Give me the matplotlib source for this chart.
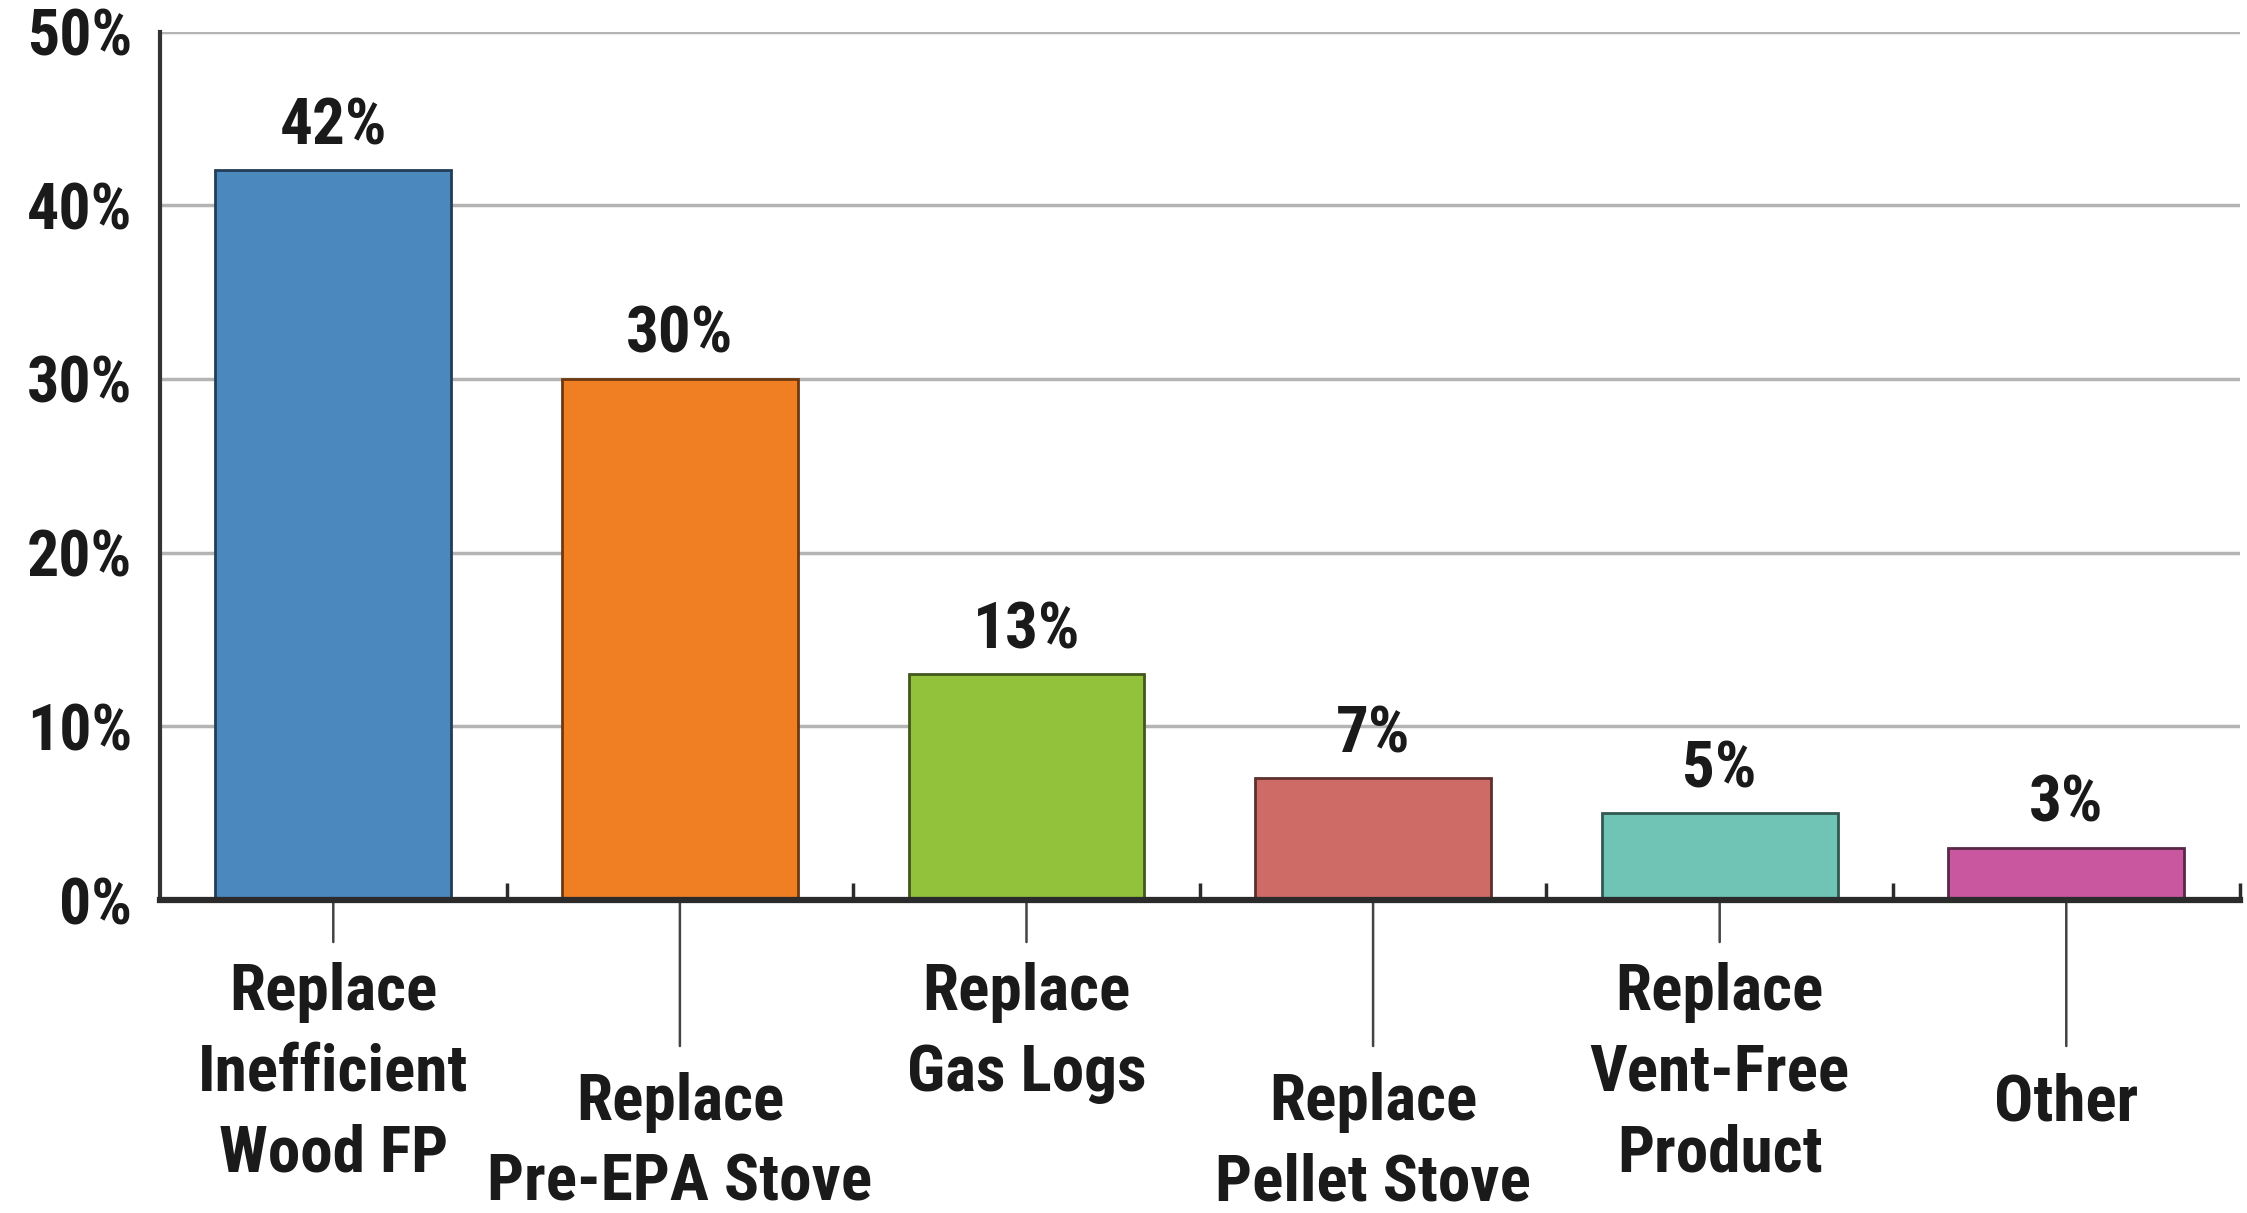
import numpy as np
import matplotlib.pyplot as plt
from matplotlib.colors import to_rgb
from matplotlib import font_manager
from matplotlib.font_manager import FontProperties

# data
categories = ["Replace\nInefficient\nWood FP", "Replace\nPre-EPA Stove", "Replace\nGas Logs",
              "Replace\nPellet Stove", "Replace\nVent-Free\nProduct", "Other"]
shares = [42, 30, 13, 7, 5, 3]
y_ticks = [0, 10, 20, 30, 40, 50]
bar_colors = ["#4b88bd", "#f07f24", "#92c13b", "#cf6b66", "#70c4b6", "#c957a0"]


def pick_font():
    """Prefer a narrow / condensed bold sans, like the reference."""
    entries = font_manager.fontManager.ttflist
    names = {f.name for f in entries}
    for n in ['Liberation Sans Narrow', 'Roboto Condensed', 'Open Sans Condensed',
              'Noto Sans Condensed']:
        if n in names:
            return n, 'normal'
    for f in entries:
        if f.name == 'DejaVu Sans' and str(f.stretch) in ('condensed', 'semi-condensed'):
            return 'DejaVu Sans', 'condensed'
    return 'Liberation Sans', 'normal'


FAMILY, STRETCH = pick_font()

fig = plt.figure(figsize=(22.47, 12.13), dpi=100)
fig.patch.set_facecolor('white')
renderer = fig.canvas.get_renderer()


def fit_size(sample, target_px, cap):
    # font size giving the sample string the target pixel width
    prop = FontProperties(family=FAMILY, weight='bold', stretch=STRETCH, size=cap)
    w, h, d = renderer.get_text_width_height_descent(sample, prop, ismath=False)
    return min(cap, cap * target_px / w)


lab_size = fit_size("Inefficient", 272, 47)
val_size = fit_size("42%", 107, 48)
tick_size = fit_size("50%", 119, 46)
lp = FontProperties(family=FAMILY, weight='bold', stretch=STRETCH, size=lab_size)
_, lh, ld = renderer.get_text_width_height_descent("lp", lp, ismath=False)
line_sp = 0.86 * 79 / (lh - ld)

ax = fig.add_axes([0.0712, 0.258, 0.9255, 0.716])

x = np.arange(len(shares))
edges = [tuple(0.45 * c for c in to_rgb(col)) for col in bar_colors]
ax.bar(x, shares, width=0.68, color=bar_colors, edgecolor=edges, linewidth=2, zorder=3)

ax.set_xlim(-0.5, len(shares) - 0.5)
ax.set_ylim(0, 50)
ax.set_yticks(y_ticks)
ax.set_yticklabels([f"{t}%" for t in y_ticks], fontfamily=FAMILY, fontstretch=STRETCH,
                   fontweight='bold', fontsize=tick_size, color='#1a1a1a')
ax.tick_params(axis='y', length=0, pad=20)
ax.grid(axis='y', color='#b4b4b4', linewidth=2.5, zorder=0)

# separator ticks between categories
ax.set_xticks(np.arange(0.5, len(shares), 1))
ax.tick_params(axis='x', direction='in', length=12, width=2.5, color='#2b2b2b', labelbottom=False)

for s in ['top', 'right']:
    ax.spines[s].set_visible(False)
ax.spines['left'].set_color('#333333')
ax.spines['left'].set_linewidth(3)
ax.spines['bottom'].set_color('#2b2b2b')
ax.spines['bottom'].set_linewidth(4.5)
ax.spines['bottom'].set_zorder(4)

# value labels
for i, v in enumerate(shares):
    ax.annotate(f"{v}%", xy=(i, v), xytext=(0, 26), textcoords='offset pixels',
                ha='center', va='baseline', fontsize=val_size, fontweight='bold',
                fontfamily=FAMILY, fontstretch=STRETCH, color='#1a1a1a')

# staggered category labels with leader lines
for i, label in enumerate(categories):
    low = i % 2 == 1
    line_len = 146 if low else 42
    text_off = 172 if low else 62
    ax.annotate('', xy=(i, 0), xycoords=('data', 'axes fraction'),
                xytext=(0, -line_len), textcoords='offset pixels',
                arrowprops=dict(arrowstyle='-', color='#444444', lw=1.8,
                                shrinkA=0, shrinkB=0),
                annotation_clip=False)
    ax.annotate(label, xy=(i, 0), xycoords=('data', 'axes fraction'),
                xytext=(0, -text_off), textcoords='offset pixels',
                ha='center', va='top', fontsize=lab_size, fontweight='bold',
                fontfamily=FAMILY, fontstretch=STRETCH, color='#1a1a1a',
                linespacing=line_sp, annotation_clip=False)

fig.savefig('out.png', dpi=100, facecolor='white')
